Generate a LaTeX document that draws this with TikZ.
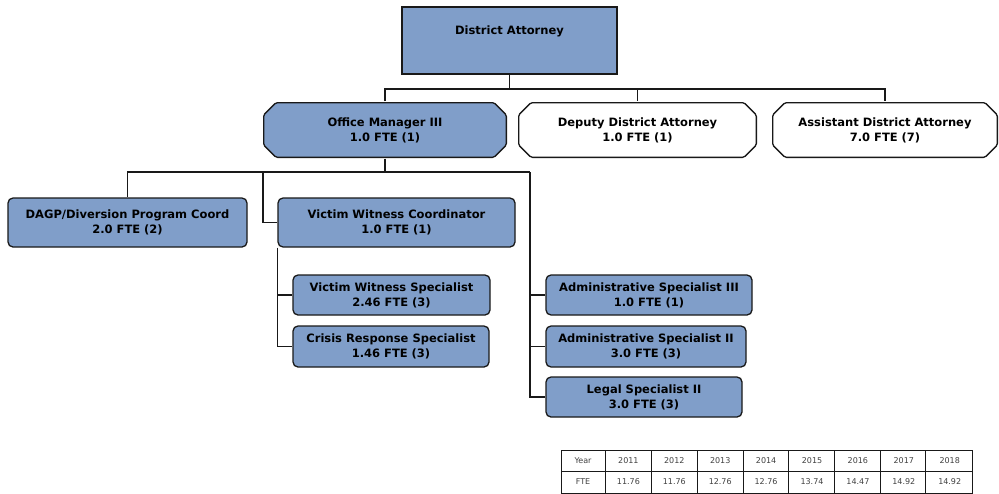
\documentclass[tikz,border=0pt]{standalone}
\usepackage{fontspec}
\setmainfont{DejaVu Sans}
\definecolor{postblue}{RGB}{128,158,201}
\definecolor{wire}{RGB}{25,25,25}

\begin{document}
\begin{tikzpicture}[x=1pt,y=-1pt,
  post/.style={draw=wire,line width=1.3pt,fill=postblue,align=center,inner sep=0pt,
    font=\bfseries\fontsize{11.5}{15}\selectfont},
  chief/.style={post,rectangle,line width=2pt,minimum width=215pt,minimum height=67pt},
  octa/.style={post,rectangle,draw=none,fill=none,minimum height=56pt,
    path picture={\draw[draw=wire,line width=1.3pt,fill=#1,rounded corners=1.5pt]
      ([shift={(13pt,-.65pt)}]path picture bounding box.north west) --
      ([shift={(-13pt,-.65pt)}]path picture bounding box.north east) --
      ([shift={(-.65pt,-13pt)}]path picture bounding box.north east) --
      ([shift={(-.65pt,13pt)}]path picture bounding box.south east) --
      ([shift={(-13pt,.65pt)}]path picture bounding box.south east) --
      ([shift={(13pt,.65pt)}]path picture bounding box.south west) --
      ([shift={(.65pt,13pt)}]path picture bounding box.south west) --
      ([shift={(.65pt,-13pt)}]path picture bounding box.north west) -- cycle;}},
  staff/.style={post,rectangle,rounded corners=5pt},
  cell/.style={font=\fontsize{8}{9}\selectfont,text=black!75,inner sep=0pt}]

\useasboundingbox (0,0) rectangle (999,493);

\node[chief] (da) at (509.5,40) {District Attorney\\[4pt]};
\node[octa=postblue,minimum width=244pt] (om) at (385,130) {Office Manager III\\1.0 FTE (1)};
\node[octa=white,minimum width=239pt] (dda) at (637.5,130) {Deputy District Attorney\\1.0 FTE (1)};
\node[octa=white,minimum width=226pt] (ada) at (885,130) {Assistant District Attorney\\7.0 FTE (7)};

\node[staff,minimum width=239pt,minimum height=49pt] (dagp) at (127.5,222.5) {DAGP/Diversion Program Coord\\2.0 FTE (2)};
\node[staff,minimum width=237pt,minimum height=49pt] (vwc) at (396.5,222.5) {Victim Witness Coordinator\\1.0 FTE (1)};
\node[staff,minimum width=197pt,minimum height=40pt] (vws) at (391.5,295) {Victim Witness Specialist\\2.46 FTE (3)};
\node[staff,minimum width=196pt,minimum height=41pt] (crs) at (391,346.5) {Crisis Response Specialist\\1.46 FTE (3)};
\node[staff,minimum width=206pt,minimum height=40pt] (as3) at (649,295) {Administrative Specialist III\\1.0 FTE (1)};
\node[staff,minimum width=200pt,minimum height=41pt] (as2) at (646,346.5) {Administrative Specialist II\\3.0 FTE (3)};
\node[staff,minimum width=196pt,minimum height=40pt] (ls2) at (644,397) {Legal Specialist II\\3.0 FTE (3)};

\coordinate (top) at (509.5,89);
\coordinate (mid) at (385,172);
\coordinate (vwj) at (263,172);
\coordinate (adm) at (530,172);

\begin{scope}[draw=wire,line width=1.4pt]
\draw (da.south) -- (top);
\draw (om.north) |- (top) -| (ada.north);
\draw (top) -| (dda.north);
\draw (om.south) -- (mid);
\draw (dagp.north) |- (adm);
\draw (vwj) |- (vwc.west);
\draw (vwc.south west) |- (crs.west);
\draw (vwc.south west |- vws.west) -- (vws.west);
\draw (adm) |- (ls2.west);
\draw (adm |- as3.west) -- (as3.west);
\draw (adm |- as2.west) -- (as2.west);
\end{scope}

\draw[wire,line width=0.8pt] (561,450) rectangle (972,493) (561,471) -- (972,471);
\foreach \x in {605,651,697,743,788,834,880,925}
  \draw[wire,line width=0.8pt] (\x,450) -- (\x,493);
\node[cell] (yhd) at (583,460.5) {Year};
\node[cell] (fhd) at (583,482) {FTE};
\foreach \yr/\fte [count=\i] in {2011/11.76,2012/11.76,2013/12.76,2014/12.76,2015/13.74,2016/14.47,2017/14.92,2018/14.92}{
  \node[cell] (y\i) at (582.5+45.9*\i,460.5) {\yr};
  \node[cell] (f\i) at (582.5+45.9*\i,482) {\fte};
}
\end{tikzpicture}
\end{document}
